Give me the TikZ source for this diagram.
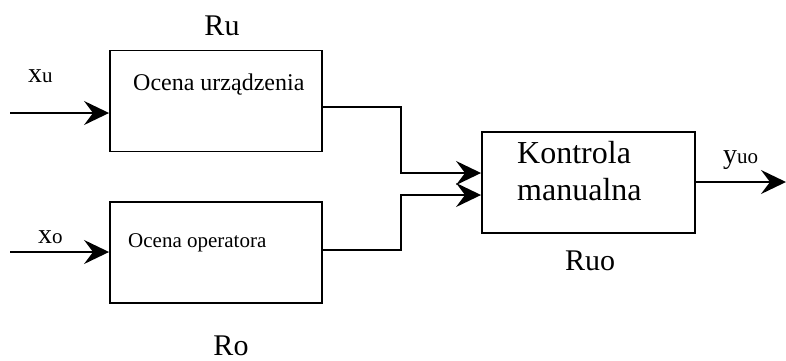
\documentclass[tikz,border=0pt]{standalone}
\usepackage{fontspec}
\setmainfont{Liberation Serif}
\usetikzlibrary{arrows.meta,positioning}

\newcommand{\sygnal}[2]{{\fontsize{28}{28}\selectfont #1}{\fontsize{21}{21}\selectfont #2}}

\begin{document}
\begin{tikzpicture}[x=1pt, y=-1pt,
                    blok/.style = {draw, line width=1.9pt, inner sep=0pt, minimum width=212pt, minimum height=101pt},
                    opis/.style = {anchor=base west, inner sep=0pt},
                    nazwa/.style = {anchor=base, inner sep=0pt, font=\fontsize{30}{30}\selectfont},
                    strz/.style = {line width=1.9pt, -{Stealth[length=25pt, width=24pt, inset=9pt]}}]
                \useasboundingbox (0,0) rectangle (786,360);
                % bloki
                \node[blok] (bu) at (216,101) {};
                \node[blok] (bo) at (216,252.5) {};
                \node[blok, minimum width=213pt] (bk) at (588.5,182.5) {};
                % teksty w blokach
                \node[opis, font=\fontsize{24}{24}\selectfont] (tu) at (133,90) {Ocena urządzenia};
                \node[opis, font=\fontsize{21}{21}\selectfont] (to) at (128,247) {Ocena operatora};
                \node[opis, align=left, font=\fontsize{32}{37}\selectfont] (tk) at (517,200) {Kontrola\\manualna};
                % nazwy
                \node[nazwa] (ru) at (222,35) {Ru};
                \node[nazwa] (ro) at (231,355) {Ro};
                \node[nazwa] (ruo) at (590,270) {Ruo};
                % sygnaly
                \node[opis] (lxu) at (28,82) {\sygnal{x}{u}};
                \node[opis] (lxo) at (38,243) {\sygnal{x}{o}};
                \node[opis] (lyuo) at (723,163) {\sygnal{y}{uo}};
                \coordinate (xu) at (10,113);
                \coordinate (xo) at (10,252);
                \coordinate (ju) at (401,173);
                \coordinate (jo) at (401,195);
                \coordinate (yuo) at (786,182);
                % polaczenia
                \draw[strz] (xu) -- (bu.west |- xu);
                \draw[strz] (xo) -- (bo.west |- xo);
                \draw[strz] ([yshift=-6pt]bu.east) -| (ju) -- (bk.west |- ju);
                \draw[strz] ([yshift=2.5pt]bo.east) -| (jo) -- (bk.west |- jo);
                \draw[strz] (bk.east |- yuo) -- (yuo);
                \end{tikzpicture}
\end{document}
